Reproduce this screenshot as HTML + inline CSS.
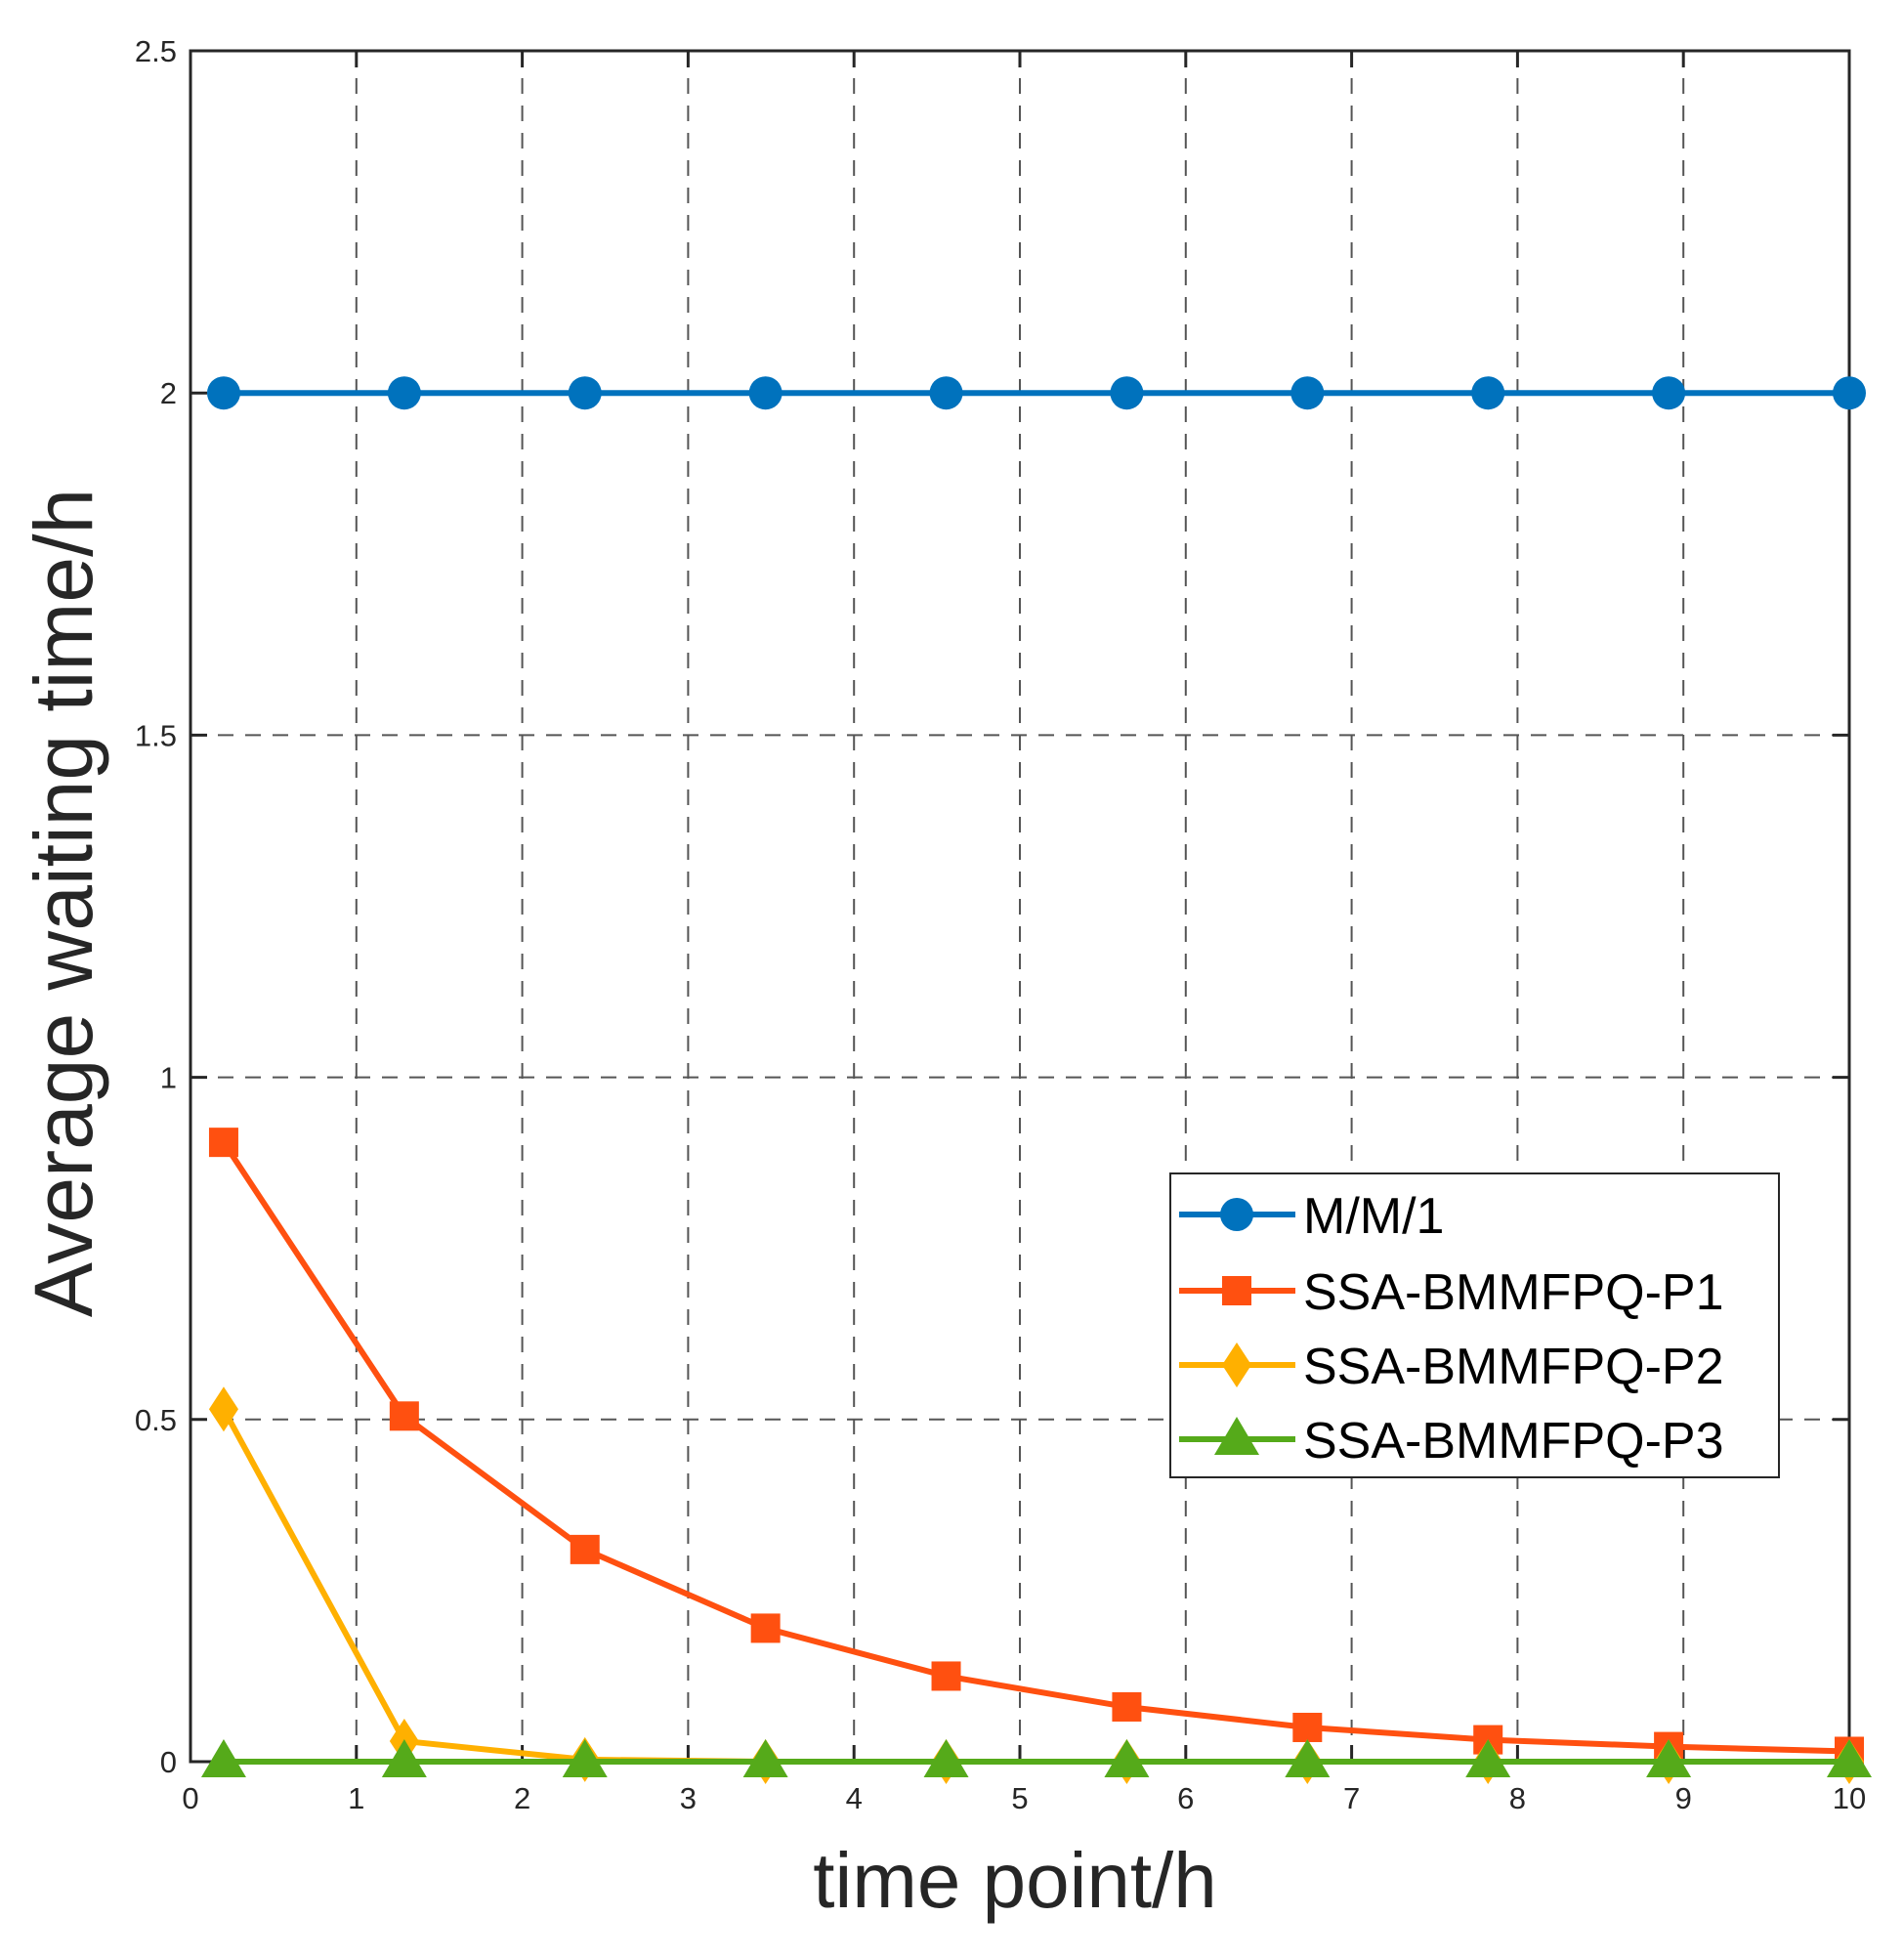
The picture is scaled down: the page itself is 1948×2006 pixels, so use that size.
<!DOCTYPE html><html><head><style>body{margin:0;background:#fff}</style></head><body>
<svg width="1948" height="2001" xmlns="http://www.w3.org/2000/svg" font-family="Liberation Sans, sans-serif">
<rect width="1948" height="2001" fill="#fff"/>
<g stroke="#555" stroke-width="2" stroke-dasharray="16,12" id="grid"></g>
<script>
const X0=195,X1=1893,Y0=1803,Y1=52;
const sx=v=>X0+(X1-X0)*v/10, sy=v=>Y0-(Y0-Y1)*v/2.5;
const ns="http://www.w3.org/2000/svg";
const svg=document.currentScript.parentNode;
function el(t,a,p){const e=document.createElementNS(ns,t);for(const k in a)e.setAttribute(k,a[k]);(p||svg).appendChild(e);return e;}
const g=document.getElementById('grid');
for(let i=1;i<10;i++)el('line',{x1:sx(i),x2:sx(i),y1:Y1,y2:Y0},g);
for(let j=1;j<5;j++)el('line',{x1:X0,x2:X1,y1:sy(j*0.5),y2:sy(j*0.5)},g);
el('rect',{x:X0,y:Y1,width:X1-X0,height:Y0-Y1,fill:'none',stroke:'#262626','stroke-width':3});
for(let i=0;i<=10;i++){el('line',{x1:sx(i),x2:sx(i),y1:Y0,y2:Y0-17,stroke:'#262626','stroke-width':3});el('line',{x1:sx(i),x2:sx(i),y1:Y1,y2:Y1+17,stroke:'#262626','stroke-width':3});
const t=el('text',{x:sx(i),y:Y0+48,'font-size':31,'text-anchor':'middle',fill:'#262626'});t.textContent=i;}
const yl=['0','0.5','1','1.5','2','2.5'];
for(let j=0;j<6;j++){el('line',{x1:X0,x2:X0+17,y1:sy(j*0.5),y2:sy(j*0.5),stroke:'#262626','stroke-width':3});el('line',{x1:X1,x2:X1-17,y1:sy(j*0.5),y2:sy(j*0.5),stroke:'#262626','stroke-width':3});
const t=el('text',{x:X0-14,y:sy(j*0.5)+11,'font-size':31,'text-anchor':'end',fill:'#262626'});t.textContent=yl[j];}
const xs=[...Array(10)].map((_,i)=>0.2+i*9.8/9);
const S=[
 {c:'#0072BD',d:Array(10).fill(2),m:'o'},
 {c:'#FF5010',d:[0.905,0.505,0.31,0.195,0.125,0.08,0.05,0.032,0.022,0.015],m:'s'},
 {c:'#FFB000',d:[0.515,0.03,0.003,0,0,0,0,0,0,0],m:'d'},
 {c:'#55AA1A',d:Array(10).fill(0),m:'t'}];
function mk(m,x,y,c){
 if(m=='o')el('circle',{cx:x,cy:y,r:17,fill:c});
 if(m=='s')el('rect',{x:x-15,y:y-15,width:30,height:30,fill:c});
 if(m=='d')el('polygon',{points:`${x},${y-23} ${x+15},${y} ${x},${y+23} ${x-15},${y}`,fill:c});
 if(m=='t')el('polygon',{points:`${x},${y-23} ${x+23},${y+16} ${x-23},${y+16}`,fill:c});
}
for(const s of S){el('polyline',{points:xs.map((x,i)=>sx(x)+','+sy(s.d[i])).join(' '),fill:'none',stroke:s.c,'stroke-width':6});
 xs.forEach((x,i)=>mk(s.m,sx(x),sy(s.d[i]),s.c));}
el('rect',{x:1198,y:1201,width:623,height:311,fill:'#fff',stroke:'#262626','stroke-width':2});
const names=['M/M/1','SSA-BMMFPQ-P1','SSA-BMMFPQ-P2','SSA-BMMFPQ-P3'];
const ly=[1243,1321,1397,1473];
S.forEach((s,i)=>{el('line',{x1:1207,x2:1326,y1:ly[i],y2:ly[i],stroke:s.c,'stroke-width':6});mk(s.m,1266,ly[i],s.c);
 const t=el('text',{x:1334,y:ly[i]+19,'font-size':52,fill:'#000'});t.textContent=names[i];});
const xl=el('text',{x:1039,y:1952,'font-size':80,'text-anchor':'middle',fill:'#262626'});xl.textContent='time point/h';
const yl2=el('text',{x:0,y:0,'font-size':84,'text-anchor':'middle',fill:'#262626',transform:'translate(94,924) rotate(-90)'});yl2.textContent='Average waiting time/h';
</script>
</svg></body></html>
